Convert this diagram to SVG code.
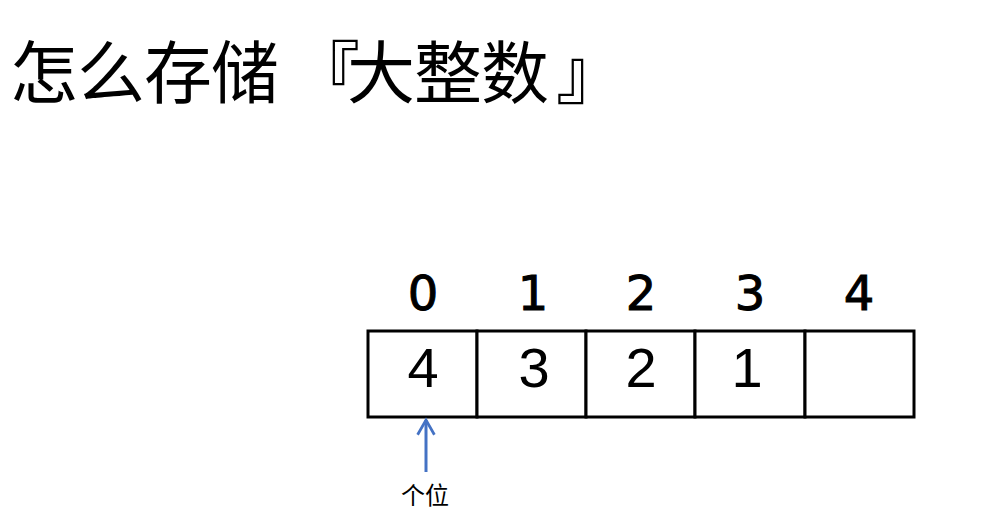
<svg xmlns="http://www.w3.org/2000/svg" width="992" height="526" viewBox="0 0 992 526">
<style>
.cell{fill:#fff;stroke:#000;stroke-width:3}
.idx{font-family:"DejaVu Sans","Noto Sans CJK SC",sans-serif;font-size:48px;fill:#000;text-anchor:middle;stroke:#000;stroke-width:1}
.val{font-family:"Liberation Sans","Noto Sans",sans-serif;font-size:56px;fill:#000;text-anchor:middle}
.title{font-family:"Noto Sans CJK SC",sans-serif;font-size:68px;fill:#000;text-spacing-trim:space-all}
</style>
<defs>
<marker id="ah" viewBox="0 0 10 10" refX="8.5" refY="5" markerWidth="7" markerHeight="7" orient="auto" markerUnits="strokeWidth">
<path d="M1.5,1 L8.5,5 L1.5,9" fill="none" stroke="#4472C4" stroke-width="1.3"/>
</marker>
</defs>
<rect width="992" height="526" fill="#fff"/>
<text class="title" x="10 77 144 211 292 347 414 481 556" y="98">怎么存储『大整数』</text>
<g id="indices">
<text class="idx" x="423" y="310">0</text>
<text class="idx" x="533" y="310">1</text>
<text class="idx" x="641" y="310">2</text>
<text class="idx" x="750" y="310">3</text>
<text class="idx" x="859" y="310">4</text>
</g>
<g id="cell0"><rect class="cell" x="368" y="331" width="109" height="86"/><text class="val" x="423" y="387">4</text></g>
<g id="cell1"><rect class="cell" x="477" y="331" width="109" height="86"/><text class="val" x="534" y="387">3</text></g>
<g id="cell2"><rect class="cell" x="586" y="331" width="109" height="86"/><text class="val" x="641" y="387">2</text></g>
<g id="cell3"><rect class="cell" x="695" y="331" width="110" height="86"/><text class="val" x="747" y="387">1</text></g>
<g id="cell4"><rect class="cell" x="805" y="331" width="109" height="86"/></g>
<g id="connectors">
<line x1="426" y1="472" x2="426" y2="420" stroke="#4472C4" stroke-width="3" marker-end="url(#ah)"/>
</g>
<g id="label">
<text x="425" y="504" font-family="Noto Sans CJK SC,sans-serif" font-size="24" fill="#000" text-anchor="middle">个位</text>
</g>
</svg>
